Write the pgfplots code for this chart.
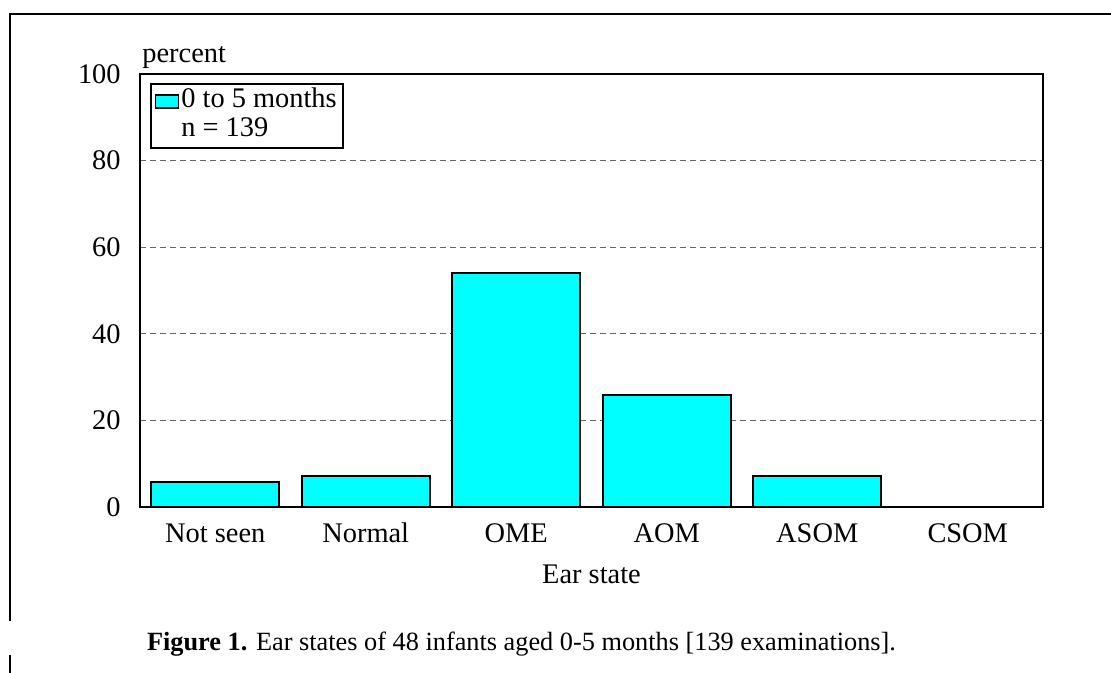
\documentclass[border=0pt]{standalone}
\usepackage{fontspec}
\setmainfont{Liberation Serif}
\usepackage{pgfplots}
\pgfplotsset{compat=1.18}
\definecolor{aqua}{RGB}{0,255,255}
\newcommand{\chartfont}{\fontsize{14.2}{16}\selectfont}
\begin{document}
\begin{tikzpicture}
\useasboundingbox (0pt,0pt) rectangle (555.5pt,336.5pt);
% outer frame lines
\draw[line width=1pt] (5pt,26pt) -- (5pt,329.5pt) -- (555.5pt,329.5pt);
\draw[line width=1pt] (5pt,0pt) -- (5pt,9pt);
\begin{axis}[
  at={(70pt,83pt)}, anchor=south west,
  scale only axis, width=451.5pt, height=216.5pt,
  ymin=0, ymax=100, xmin=-0.5, xmax=5.5,
  ytick={0,20,40,60,80,100},
  xtick={0,1,2,3,4,5},
  xticklabels={Not seen,Normal,OME,AOM,ASOM,CSOM},
  major tick length=0pt,
  ymajorgrids,
  grid style={densely dashed, black!60, line width=0.5pt},
  axis line style={line width=0.8pt},
  tick label style={font=\chartfont},
  /pgf/number format/assume math mode=true,
  yticklabel style={inner sep=0pt, xshift=-9.5pt},
  xticklabel style={inner sep=0pt, anchor=base, yshift=-18pt},
  xlabel={Ear state},
  xlabel style={font=\chartfont, inner sep=0pt, anchor=north, at={(axis description cs:0.5,0)}, yshift=-29pt},
  ylabel={percent},
  ylabel style={font=\chartfont, rotate=-90, inner sep=0pt, anchor=base west, at={(axis description cs:0,1)}, xshift=1pt, yshift=5.5pt},
  ybar, bar width=64pt,
  legend cell align=left,
  legend style={at={(rel axis cs:0.011,0.979)}, anchor=north west, draw=black, line width=0.8pt,
    font=\chartfont, inner xsep=2pt, inner ysep=1.5pt, row sep=0pt,
    nodes={inner sep=1pt, text height=9.5pt, text depth=3pt}},
]
\addplot[draw=black, line width=1pt, fill=aqua,
  legend image code/.code={\draw[draw=black, line width=0.8pt, fill=aqua] (0pt,-3.25pt) rectangle (11.5pt,3.25pt);}]
  coordinates {(0,5.76) (1,7.19) (2,53.96) (3,25.90) (4,7.19) (5,0)};
\addlegendentry{0 to 5 months}
\addlegendimage{empty legend}
\addlegendentry{n = 139}
\end{axis}
\node[anchor=base, inner sep=0pt, font=\fontsize{13.15}{15}\selectfont] at (260.75pt,11pt) {\textbf{Figure 1.} Ear states of 48 infants aged 0-5 months [139 examinations].};
\end{tikzpicture}
\end{document}
